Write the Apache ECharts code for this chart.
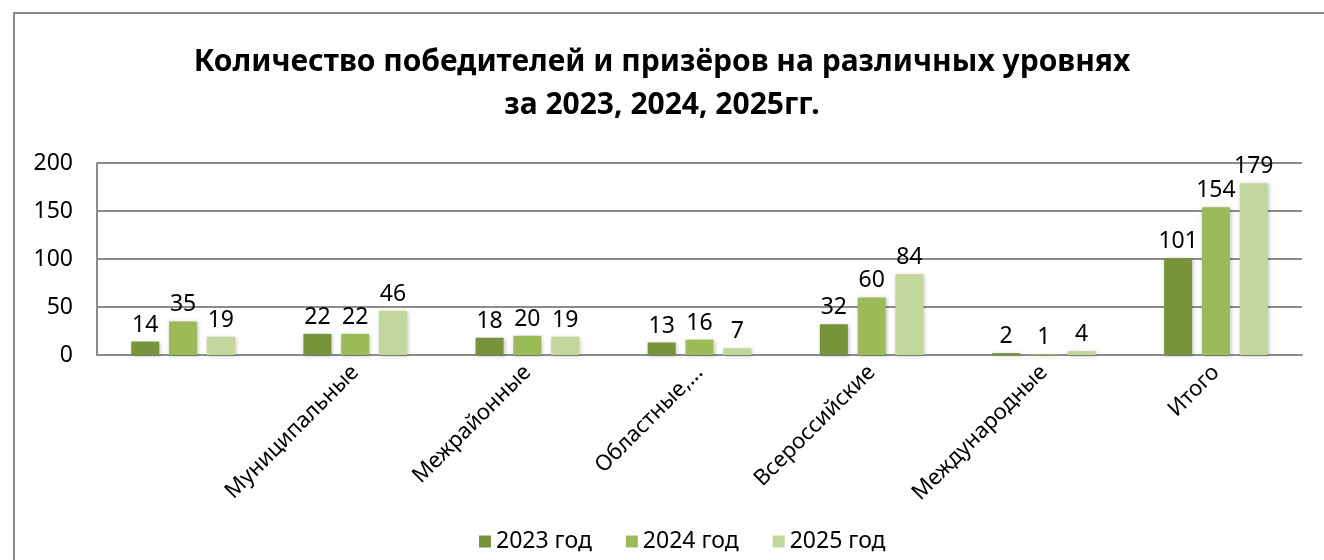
<!DOCTYPE html>
<html>
<head>
<meta charset="utf-8">
<script src="https://cdn.jsdelivr.net/npm/echarts@6/dist/echarts.min.js"></script>
<style>
  html, body { margin: 0; padding: 0; background: #fff; overflow: hidden; }
  #frame {
    position: absolute; left: 13px; top: 12px; width: 1400px; height: 700px;
    border-left: 2px solid #8c8c8c; border-top: 2px solid #8c8c8c;
  }
  #chart { position: absolute; left: 0; top: 0; width: 1324px; height: 560px; }
</style>
</head>
<body>
<div id="frame"></div>
<div id="chart"></div>
<script>
const categories = ['', 'Муниципальные', 'Межрайонные', 'Областные,...', 'Всероссийские', 'Международные', 'Итого'];
const seriesNames = ['2023 год', '2024 год', '2025 год'];
const values2023 = [14, 22, 18, 13, 32, 2, 101];
const values2024 = [35, 22, 20, 16, 60, 1, 154];
const values2025 = [19, 46, 19, 7, 84, 4, 179];
const yTicks = [0, 50, 100, 150, 200];
const colors = ['#77933c', '#9bbb59', '#c3d69b'];

const font = '"Noto Sans", sans-serif';
const chart = echarts.init(document.getElementById('chart'));

const makeSeries = (name, data, i) => ({
  name,
  type: 'bar',
  data,
  barWidth: 28,
  barGap: '35%',
  itemStyle: {
    color: colors[i],
    shadowColor: 'rgba(0,0,0,0.25)',
    shadowBlur: 4,
    shadowOffsetX: 1,
    shadowOffsetY: 1
  },
  label: {
    show: true,
    position: 'top',
    distance: 5,
    color: '#000',
    fontFamily: font,
    fontSize: 23
  }
});

chart.setOption({
  animation: false,
  title: {
    text: 'Количество победителей и призёров на различных уровнях\nза 2023, 2024, 2025гг.',
    left: 'center',
    top: 36,
    textStyle: {
      fontFamily: font,
      fontWeight: 'bold',
      fontSize: 30,
      lineHeight: 43,
      color: '#000'
    }
  },
  legend: {
    data: seriesNames,
    left: 474,
    bottom: 2,
    icon: 'rect',
    itemWidth: 12,
    itemHeight: 12,
    itemGap: 34,
    textStyle: { fontFamily: font, fontSize: 23, color: '#000' }
  },
  grid: { left: 97, right: 22, top: 163, bottom: 205 },
  xAxis: {
    type: 'category',
    data: categories,
    axisTick: { show: false },
    axisLine: { lineStyle: { color: '#8c8c8c', width: 2 } },
    axisLabel: {
      rotate: 45,
      interval: 0,
      margin: 14,
      color: '#000',
      fontFamily: font,
      fontSize: 22
    }
  },
  yAxis: {
    type: 'value',
    min: yTicks[0],
    max: yTicks[yTicks.length - 1],
    interval: 50,
    axisLine: { show: true, lineStyle: { color: '#8c8c8c', width: 2 } },
    axisTick: { show: false },
    splitLine: { lineStyle: { color: '#8c8c8c', width: 2 } },
    axisLabel: { margin: 24, color: '#000', fontFamily: font, fontSize: 23 }
  },
  series: [
    makeSeries(seriesNames[0], values2023, 0),
    makeSeries(seriesNames[1], values2024, 1),
    makeSeries(seriesNames[2], values2025, 2)
  ]
});
</script>
</body>
</html>
